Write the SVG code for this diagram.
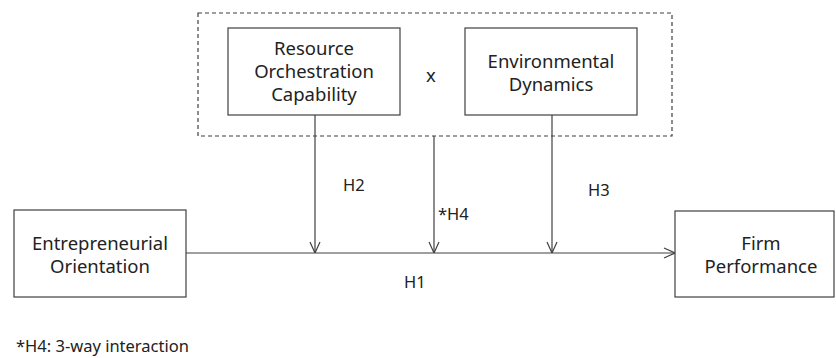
<svg xmlns="http://www.w3.org/2000/svg" width="836" height="358" viewBox="0 0 836 358">
<style>
.box{fill:#fff;stroke:#404040;stroke-width:1.2}
.t{font-family:"Noto Sans","Liberation Sans",sans-serif;font-size:18.5px;fill:#222;text-anchor:middle}
.l{font-family:"Noto Sans","Liberation Sans",sans-serif;font-size:16.5px;fill:#222}
.c{fill:none;stroke:#404040;stroke-width:1.2}
</style>
<defs>
<marker id="a" viewBox="0 0 12 12" refX="12" refY="6" markerWidth="12" markerHeight="12" markerUnits="userSpaceOnUse" orient="auto">
<path d="M1,1 L12,6 L1,11" fill="none" stroke="#404040" stroke-width="1.2"/>
</marker>
</defs>
<rect x="198" y="13" width="474" height="123" fill="none" stroke="#404040" stroke-width="1.2" stroke-dasharray="4,3"/>
<g id="roc">
<rect class="box" x="228" y="28" width="172" height="87"/>
<text class="t" x="314" y="55">Resource</text>
<text class="t" x="314" y="78">Orchestration</text>
<text class="t" x="314" y="101">Capability</text>
</g>
<text class="t" x="431" y="82">x</text>
<g id="ed">
<rect class="box" x="465" y="28" width="172" height="87"/>
<text class="t" x="551" y="68">Environmental</text>
<text class="t" x="551" y="91">Dynamics</text>
</g>
<g id="eo">
<rect class="box" x="14" y="210" width="172" height="87"/>
<text class="t" x="100" y="250">Entrepreneurial</text>
<text class="t" x="100" y="273">Orientation</text>
</g>
<g id="fp">
<rect class="box" x="675" y="211" width="159" height="86"/>
<text class="t" x="761" y="250">Firm</text>
<text class="t" x="761" y="273">Performance</text>
</g>
<g id="connectors">
<line class="c" x1="186" y1="253" x2="675" y2="253" marker-end="url(#a)"/>
<line class="c" x1="315" y1="115" x2="315" y2="253" marker-end="url(#a)"/>
<line class="c" x1="434" y1="136" x2="434" y2="253" marker-end="url(#a)"/>
<line class="c" x1="552" y1="115" x2="552" y2="253" marker-end="url(#a)"/>
</g>
<text class="l" x="343" y="191">H2</text>
<text class="l" x="438" y="220">*H4</text>
<text class="l" x="588" y="196">H3</text>
<text class="l" x="404" y="288">H1</text>
<text class="l" x="16" y="352">*H4: 3-way interaction</text>
</svg>
